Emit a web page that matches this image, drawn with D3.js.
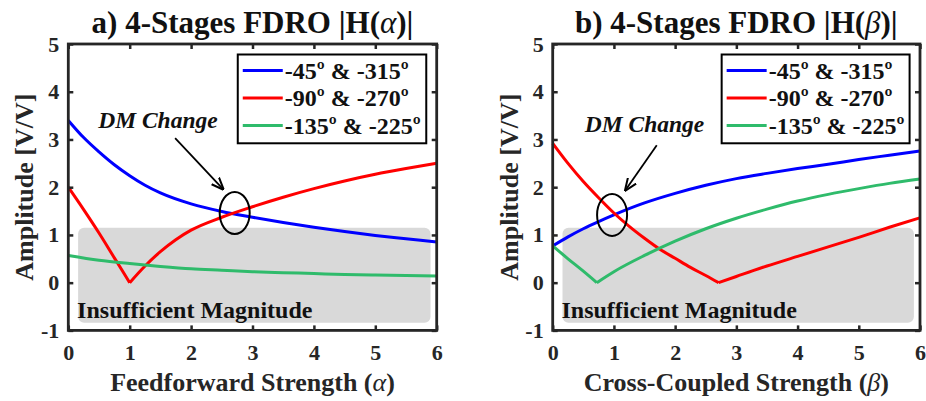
<!DOCTYPE html>
<html><head><meta charset="utf-8">
<script src="https://cdn.jsdelivr.net/npm/d3@7"></script>
<style>
body{margin:0;background:#fff;}
svg{display:block;}
svg text{font-family:"Times New Roman","Liberation Serif",Tinos,"DejaVu Serif",serif;}
</style></head>
<body>
<svg id="c" width="926" height="401"></svg>
<script>
// ---------- data ----------
const xTicks = [0,1,2,3,4,5,6];
const yTicks = [-1,0,1,2,3,4,5];
const legendLabels = ["-45º & -315º","-90º & -270º","-135º & -225º"];
const seriesColors = ["#0000ff","#ff0000","#2fbb6b"];

// Panel a: vs alpha
const aBlueX  = [0,0.25,0.5,0.75,1,1.25,1.5,2,2.5,3,3.5,4,4.5,5,5.5,6];
const aBlueY  = [3.40,3.04,2.74,2.47,2.24,2.04,1.88,1.65,1.49,1.37,1.26,1.16,1.07,0.99,0.92,0.85];
const aRedX   = [0,0.25,0.5,0.75,1,1.25,1.5,1.75,2,2.5,3,3.5,4,4.5,5,5.5,6];
const aRedY   = [2.00,1.53,1.04,0.52,0,0.35,0.65,0.90,1.10,1.37,1.59,1.79,1.97,2.13,2.27,2.39,2.50];
const aGreenX = [0,0.5,1,1.5,2,2.5,3,3.5,4,4.5,5,5.5,6];
const aGreenY = [0.57,0.47,0.40,0.34,0.29,0.26,0.23,0.21,0.19,0.17,0.16,0.15,0.14];

// Panel b: vs beta
const bBlueX  = [0,0.25,0.5,0.75,1,1.5,2,2.5,3,3.5,4,4.5,5,5.5,6];
const bBlueY  = [0.77,0.96,1.13,1.28,1.42,1.67,1.87,2.04,2.18,2.29,2.39,2.48,2.58,2.67,2.76];
const bRedX   = [0,0.25,0.5,0.75,1,1.25,1.5,1.75,2,2.25,2.5,2.71,3,3.5,4,4.5,5,5.5,6];
const bRedY   = [2.92,2.50,2.12,1.78,1.46,1.18,0.93,0.70,0.51,0.32,0.15,0,0.13,0.35,0.55,0.75,0.95,1.16,1.36];
const bGreenX = [0,0.25,0.5,0.72,1,1.5,2,2.5,3,3.5,4,4.5,5,5.5,6];
const bGreenY = [0.77,0.50,0.24,0,0.23,0.57,0.87,1.13,1.35,1.54,1.71,1.85,1.97,2.08,2.17];

const panels = [
  {title:"a) 4-Stages FDRO |H(", sym:"α", xlabel:"Feedforward Strength (", left:68.3, right:436.7,
   series:[[aBlueX,aBlueY],[aRedX,aRedY],[aGreenX,aGreenY]],
   ellipse:[2.71,1.46], arrowFrom:[1.74,3.03], arrowTo:[2.52,1.96], dm:[1.46,3.24]},
  {title:"b) 4-Stages FDRO |H(", sym:"β", xlabel:"Cross-Coupled Strength (", left:552.7, right:920,
   series:[[bBlueX,bBlueY],[bRedX,bRedY],[bGreenX,bGreenY]],
   ellipse:[0.97,1.42], arrowFrom:[1.70,2.88], arrowTo:[1.19,1.94], dm:[1.50,3.16]}
];

// shaded region (data units)
const shade = {x0:0.16, x1:5.9, y0:-0.84, y1:1.15};

const svg = d3.select("#c");
const plotTop = 44, plotBottom = 330.4;
const axisColor = "#262626";
const FONT = '"Times New Roman","Liberation Serif",Tinos,"DejaVu Serif",serif';
const fmt = d => String(d);

svg.append("defs").append("marker").attr("id","arr").attr("viewBox","0 0 10 10")
  .attr("refX",9).attr("refY",5).attr("markerWidth",7).attr("markerHeight",7).attr("orient","auto")
  .append("path").attr("d","M0,1 L10,5 L0,9").attr("fill","none").attr("stroke","#000").attr("stroke-width",1.6);

panels.forEach(p=>{
  const x = d3.scaleLinear().domain([0,6]).range([p.left,p.right]);
  const y = d3.scaleLinear().domain([-1,5]).range([plotBottom,plotTop]);
  const g = svg.append("g").attr("font-family",FONT);

  // shaded region
  g.append("rect").attr("x",x(shade.x0)).attr("y",y(shade.y1))
    .attr("width",x(shade.x1)-x(shade.x0)).attr("height",y(shade.y0)-y(shade.y1))
    .attr("rx",6).attr("fill","#d9d9d9");
  g.append("text").attr("x",x(shade.x0)-1).attr("y",y(-0.73)).attr("font-size",24).attr("font-weight","bold")
    .attr("fill","#111").text("Insufficient Magnitude");

  // curves, split at zero vertices
  const line = d3.line().x(d=>x(d[0])).y(d=>y(d[1])).curve(d3.curveMonotoneX);
  p.series.forEach((s,i)=>{
    const pts = s[0].map((v,k)=>[v,s[1][k]]);
    const segs=[]; let cur=[];
    pts.forEach((pt,k)=>{ cur.push(pt); if(pt[1]===0 && k>0 && k<pts.length-1){segs.push(cur); cur=[pt];} });
    segs.push(cur);
    g.append("path").attr("d",segs.map(sg=>line(sg)).join(""))
      .attr("fill","none").attr("stroke",seriesColors[i]).attr("stroke-width",3).attr("stroke-linejoin","miter");
  });

  // axes
  const xb = d3.axisBottom(x).tickValues(xTicks).tickSizeInner(-5).tickSizeOuter(0).tickPadding(14).tickFormat(fmt);
  const xt = d3.axisTop(x).tickValues(xTicks).tickSizeInner(-5).tickSizeOuter(0).tickFormat("");
  const yl = d3.axisLeft(y).tickValues(yTicks).tickSizeInner(-5).tickSizeOuter(0).tickPadding(9).tickFormat(fmt);
  const yr = d3.axisRight(y).tickValues(yTicks).tickSizeInner(-5).tickSizeOuter(0).tickFormat("");
  [[xb,`translate(0,${plotBottom})`],[xt,`translate(0,${plotTop})`],[yl,`translate(${p.left},0)`],[yr,`translate(${p.right},0)`]].forEach(([ax,tr])=>{
    const a = g.append("g").attr("transform",tr).call(ax);
    a.attr("font-family",FONT);
    a.select(".domain").remove();
    a.selectAll("line").attr("stroke",axisColor).attr("stroke-width",2.5);
    a.selectAll("text").attr("font-size",22).attr("font-weight","bold").attr("fill",axisColor);
  });
  g.append("rect").attr("x",p.left).attr("y",plotTop).attr("width",p.right-p.left).attr("height",plotBottom-plotTop)
    .attr("fill","none").attr("stroke",axisColor).attr("stroke-width",2.8);

  // title
  const cx = (p.left+p.right)/2;
  const t = g.append("text").attr("x",cx).attr("y",33).attr("text-anchor","middle")
    .attr("font-size",31).attr("font-weight","bold").attr("fill","#111");
  t.append("tspan").text(p.title);
  t.append("tspan").attr("font-style","italic").attr("font-weight","normal").text(p.sym);
  t.append("tspan").text(")|");

  // x label
  const xl = g.append("text").attr("x",cx).attr("y",391).attr("text-anchor","middle")
    .attr("font-size",26).attr("font-weight","bold").attr("fill",axisColor);
  xl.append("tspan").text(p.xlabel);
  xl.append("tspan").attr("font-style","italic").attr("font-weight","normal").text(p.sym);
  xl.append("tspan").text(")");

  // y label
  g.append("text").attr("transform",`translate(${p.left-35},${(plotTop+plotBottom)/2}) rotate(-90)`)
    .attr("text-anchor","middle").attr("font-size",26).attr("font-weight","bold").attr("fill",axisColor)
    .text("Amplitude [V/V]");

  // legend
  const lx = x(2.76), ly = y(4.78), lw = x(5.83)-x(2.76), lh = y(2.92)-y(4.78);
  g.append("rect").attr("x",lx).attr("y",ly).attr("width",lw).attr("height",lh)
    .attr("fill","#fff").attr("stroke","#000").attr("stroke-width",2);
  legendLabels.forEach((lab,i)=>{
    const yy = ly + 16 + i*27.5;
    g.append("line").attr("x1",lx+5).attr("x2",lx+45).attr("y1",yy).attr("y2",yy)
      .attr("stroke",seriesColors[i]).attr("stroke-width",3);
    g.append("text").attr("x",lx+47).attr("y",yy+8).attr("font-size",24).attr("font-weight","bold")
      .attr("fill","#111").text(lab);
  });

  // annotation
  g.append("ellipse").attr("cx",x(p.ellipse[0])).attr("cy",y(p.ellipse[1]))
    .attr("rx",15).attr("ry",21).attr("fill","none").attr("stroke","#000").attr("stroke-width",2);
  g.append("line").attr("x1",x(p.arrowFrom[0])).attr("y1",y(p.arrowFrom[1]))
    .attr("x2",x(p.arrowTo[0])).attr("y2",y(p.arrowTo[1]))
    .attr("stroke","#000").attr("stroke-width",1.8).attr("marker-end","url(#arr)");
  g.append("text").attr("x",x(p.dm[0])).attr("y",y(p.dm[1])).attr("text-anchor","middle")
    .attr("font-size",23.5).attr("font-weight","bold").attr("font-style","italic").attr("fill","#111").text("DM Change");
});
</script>
</body></html>
